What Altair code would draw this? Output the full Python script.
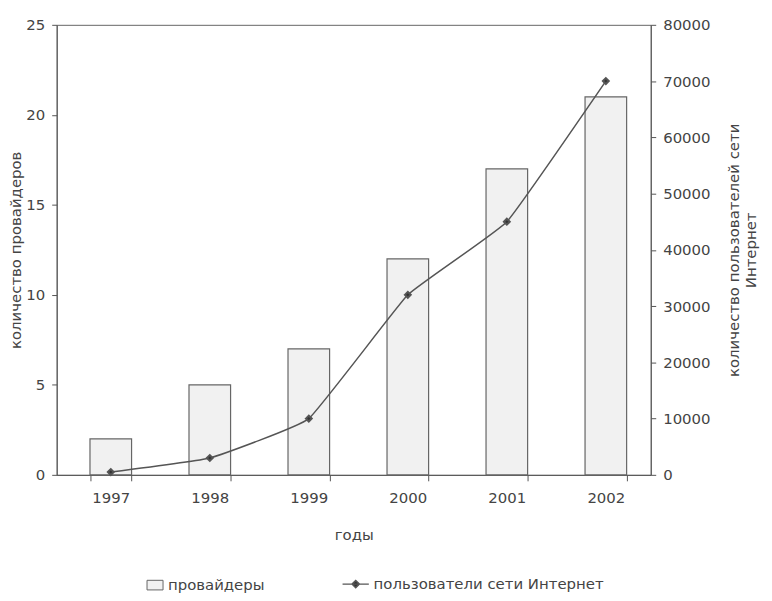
import altair as alt
import pandas as pd

years = ['1997', '1998', '1999', '2000', '2001', '2002']
providers = [2, 5, 7, 12, 17, 21]
users = [500, 3000, 10000, 32000, 45000, 70000]
bar_label = 'провайдеры'
line_label = 'пользователи сети Интернет'

df = pd.DataFrame({
    'year': years,
    'providers': providers,
    'users': users,
    'bar_s': [bar_label] * len(years),
    'line_s': [line_label] * len(years),
})

FONT = 'DejaVu Sans'
GRAY = '#444'
FS = 15

x_enc = alt.X(
    'year:N', title='годы',
    scale=alt.Scale(paddingInner=0.58, paddingOuter=0.29, align=0.58),
    axis=alt.Axis(labelAngle=0, tickBand='extent', tickSize=6, labelPadding=10,
                  titlePadding=22, domainColor='#555', tickColor='#555'),
)

bars = alt.Chart(df).mark_bar(stroke='#666', strokeWidth=1.2).encode(
    x=x_enc,
    y=alt.Y('providers:Q', title='количество провайдеров',
            scale=alt.Scale(domain=[0, 25]),
            axis=alt.Axis(orient='left', values=[0, 5, 10, 15, 20, 25], tickSize=5,
                          labelPadding=7, titlePadding=2, grid=False,
                          domainColor='#555', tickColor='#555')),
    fill=alt.Fill('bar_s:N', scale=alt.Scale(domain=[bar_label], range=['#f1f1f1']),
                  legend=alt.Legend(orient='none', legendX=90, legendY=555, title=None,
                                    symbolType='M-1,-0.6H1V0.6H-1Z', symbolSize=260,
                                    symbolStrokeColor='#666', symbolStrokeWidth=1,
                                    labelLimit=400,
                                    labelFontSize=FS, labelColor=GRAY, labelFont=FONT)),
)

line = alt.Chart(df).mark_line(
    interpolate='cardinal', tension=0.7, strokeWidth=1.5,
    point=alt.OverlayMarkDef(shape='diamond', filled=True, size=35, color='#333', opacity=1),
).encode(
    x=alt.X('year:N'),
    y=alt.Y('users:Q', title=['количество пользователей сети', 'Интернет'],
            scale=alt.Scale(domain=[0, 80000]),
            axis=alt.Axis(orient='right', values=list(range(0, 80001, 10000)), format='d',
                          tickSize=5, labelPadding=7, titlePadding=15, titleAngle=270,
                          grid=False, domainColor='#555', tickColor='#555')),
    stroke=alt.Stroke('line_s:N', scale=alt.Scale(domain=[line_label], range=['#555']),
                      legend=alt.Legend(orient='none', legendX=287, legendY=549, title=None,
                                        symbolType='M-1,0H1M0,-0.28L0.28,0L0,0.28L-0.28,0Z',
                                        symbolSize=700, symbolFillColor='#333',
                                        symbolStrokeColor='#555', symbolStrokeWidth=1.5,
                                        labelLimit=400,
                                        labelFontSize=FS, labelColor=GRAY, labelFont=FONT)),
)

chart = alt.layer(bars, line).resolve_scale(y='independent').properties(
    width=598, height=453,
    autosize=alt.AutoSizeParams(type='none'),
    padding={'left': 49, 'top': 15, 'right': 114, 'bottom': 117},
    background='white',
).configure_view(
    stroke='#666', strokeWidth=1
).configure_axis(
    labelFont=FONT, labelFontSize=FS, labelColor=GRAY,
    titleFont=FONT, titleFontSize=FS, titleColor=GRAY, titleFontWeight='normal',
)

chart.save('out.html', embed_options={'renderer': 'svg', 'actions': False})
